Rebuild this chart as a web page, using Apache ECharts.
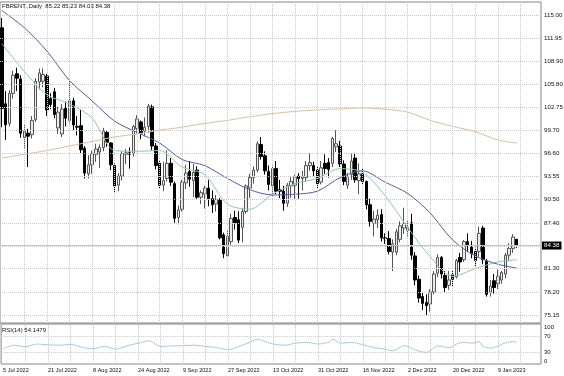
<!DOCTYPE html>
<html><head><meta charset="utf-8">
<script src="https://cdn.jsdelivr.net/npm/echarts@6/dist/echarts.min.js"></script>
<style>html,body{margin:0;padding:0;background:#fff}#c{width:564px;height:376px}</style>
</head><body><div id="c"></div>
<script>
const dates = ['5 Jul 2022','6 Jul 2022','7 Jul 2022','8 Jul 2022','11 Jul 2022','12 Jul 2022','13 Jul 2022','14 Jul 2022','15 Jul 2022','18 Jul 2022','19 Jul 2022','20 Jul 2022','21 Jul 2022','22 Jul 2022','25 Jul 2022','26 Jul 2022','27 Jul 2022','28 Jul 2022','29 Jul 2022',
'1 Aug 2022','2 Aug 2022','3 Aug 2022','4 Aug 2022','5 Aug 2022','8 Aug 2022','9 Aug 2022','10 Aug 2022','11 Aug 2022','12 Aug 2022','15 Aug 2022','16 Aug 2022','17 Aug 2022','18 Aug 2022','19 Aug 2022','22 Aug 2022','23 Aug 2022','24 Aug 2022','25 Aug 2022','26 Aug 2022','29 Aug 2022','30 Aug 2022','31 Aug 2022',
'1 Sep 2022','2 Sep 2022','5 Sep 2022','6 Sep 2022','7 Sep 2022','8 Sep 2022','9 Sep 2022','12 Sep 2022','13 Sep 2022','14 Sep 2022','15 Sep 2022','16 Sep 2022','19 Sep 2022','20 Sep 2022','21 Sep 2022','22 Sep 2022','23 Sep 2022','26 Sep 2022','27 Sep 2022','28 Sep 2022','29 Sep 2022','30 Sep 2022',
'3 Oct 2022','4 Oct 2022','5 Oct 2022','6 Oct 2022','7 Oct 2022','10 Oct 2022','11 Oct 2022','12 Oct 2022','13 Oct 2022','14 Oct 2022','17 Oct 2022','18 Oct 2022','19 Oct 2022','20 Oct 2022','21 Oct 2022','24 Oct 2022','25 Oct 2022','26 Oct 2022','27 Oct 2022','28 Oct 2022','31 Oct 2022',
'1 Nov 2022','2 Nov 2022','3 Nov 2022','4 Nov 2022','7 Nov 2022','8 Nov 2022','9 Nov 2022','10 Nov 2022','11 Nov 2022','14 Nov 2022','15 Nov 2022','16 Nov 2022','17 Nov 2022','18 Nov 2022','21 Nov 2022','22 Nov 2022','23 Nov 2022','24 Nov 2022','25 Nov 2022','28 Nov 2022','29 Nov 2022','30 Nov 2022',
'1 Dec 2022','2 Dec 2022','5 Dec 2022','6 Dec 2022','7 Dec 2022','8 Dec 2022','9 Dec 2022','12 Dec 2022','13 Dec 2022','14 Dec 2022','15 Dec 2022','16 Dec 2022','19 Dec 2022','20 Dec 2022','21 Dec 2022','22 Dec 2022','23 Dec 2022','27 Dec 2022','28 Dec 2022','29 Dec 2022','30 Dec 2022',
'3 Jan 2023','4 Jan 2023','5 Jan 2023','6 Jan 2023','9 Jan 2023','10 Jan 2023','11 Jan 2023','12 Jan 2023','13 Jan 2023','16 Jan 2023'];

const opens = [113.3,103.2,100.6,104.6,107.2,106.5,98.7,99.3,99.1,101.1,106.1,106.2,106.9,103.9,104.8,100.0,99.2,102.6,101.0,
103.6,100.2,100.3,97.3,93.9,95.1,96.5,96.8,97.4,99.4,98.0,95.0,92.4,93.6,96.5,96.7,96.6,99.9,100.8,99.6,100.2,102.8,97.6,
95.3,92.4,93.3,95.3,92.6,88.1,89.2,92.7,94.2,93.0,94.4,90.8,91.2,92.0,90.6,89.9,90.4,85.8,83.0,84.9,88.1,87.8,
86.8,88.9,92.0,93.4,94.4,97.8,96.3,94.2,92.3,94.6,91.8,91.6,90.0,92.3,92.4,93.6,93.3,93.4,95.0,95.0,94.4,
92.8,95.3,95.4,95.3,97.5,97.6,95.2,92.4,93.8,96.0,93.0,93.9,92.9,89.8,87.3,87.8,88.5,85.4,85.3,83.5,83.5,85.2,
86.7,86.4,87.4,83.0,79.9,77.6,76.8,76.6,78.2,80.7,82.8,80.4,79.1,80.5,80.2,82.8,82.5,84.9,84.4,83.6,83.6,
86.7,82.3,78.2,79.7,79.3,79.8,80.6,83.1,84.0,85.22];
const highs = [114.6,104.9,105.0,107.6,108.0,107.0,100.4,99.9,101.6,106.6,107.9,107.9,107.2,104.6,105.3,102.8,103.2,103.5,106.4,
104.0,101.6,102.4,97.6,96.4,97.0,97.9,97.8,100.0,99.7,98.1,95.3,94.0,96.9,97.2,97.4,100.4,101.7,101.0,101.4,103.2,103.1,98.0,
95.6,95.5,97.0,96.0,92.9,89.7,93.1,95.1,95.6,95.2,94.9,91.7,92.3,93.1,91.7,91.1,90.7,86.1,86.3,88.6,89.0,88.9,
89.4,92.5,93.9,94.9,98.2,98.8,96.9,95.0,95.0,95.6,93.1,92.3,92.7,93.6,93.8,94.0,94.3,95.6,96.6,95.5,94.8,
95.6,96.5,96.0,98.8,99.7,98.3,95.7,94.0,96.6,96.7,95.3,94.6,93.0,90.6,89.0,89.2,89.2,86.0,86.3,85.2,86.6,87.6,
89.4,87.7,88.6,83.5,80.4,78.1,77.9,78.6,81.0,83.2,83.0,81.0,81.0,81.0,82.6,83.4,85.1,86.0,85.0,84.1,86.9,
87.0,82.6,79.8,80.6,81.2,81.0,83.4,84.7,85.9,85.23];
const lows = [100.1,98.4,100.2,103.9,104.9,98.7,97.3,94.8,98.6,100.8,105.1,105.4,101.6,102.5,101.3,99.2,98.8,100.2,100.6,
99.7,99.0,96.6,93.3,93.3,93.9,95.5,94.7,96.9,97.5,94.4,91.5,91.6,93.0,95.2,94.6,96.2,99.3,98.5,98.9,99.4,97.0,94.5,
92.0,91.6,92.9,92.3,87.4,87.2,88.9,91.9,92.2,90.8,90.5,89.9,89.3,89.6,88.7,88.9,85.2,82.7,82.9,84.5,86.5,84.7,
84.8,88.6,90.7,92.6,94.1,95.8,93.8,91.7,90.9,91.2,90.7,89.0,89.5,90.7,90.6,90.6,91.7,92.8,94.3,93.6,92.0,
92.5,93.9,93.4,94.8,96.8,94.8,92.4,91.9,93.1,92.7,91.2,92.5,89.2,86.9,85.6,86.7,84.9,84.6,83.2,81.0,83.1,84.8,
85.9,85.5,82.5,79.1,76.8,75.8,75.1,75.6,77.9,80.2,80.0,78.2,78.5,78.9,80.0,80.9,82.2,83.5,82.7,81.5,82.9,
81.9,77.6,77.6,78.0,78.6,79.3,80.0,82.3,83.4,84.03];
const closes = [102.6,100.4,104.6,107.0,106.6,99.3,99.6,98.9,101.0,106.2,107.3,107.1,102.4,103.1,101.8,102.1,102.5,101.3,103.6,
100.4,100.1,97.1,94.0,95.1,96.6,97.2,97.4,99.6,98.1,95.1,92.3,93.6,96.6,96.7,96.5,100.2,101.2,99.3,100.1,102.9,97.6,95.0,
92.4,93.0,95.3,92.8,88.0,89.1,92.8,94.0,93.2,94.1,90.8,91.4,92.0,90.6,89.8,90.5,85.4,83.3,85.6,88.0,87.4,85.1,
88.9,92.3,93.4,94.4,97.9,96.2,94.3,92.5,94.6,91.6,91.6,90.0,92.4,92.9,93.5,93.3,93.5,95.0,95.4,94.3,92.6,
94.7,94.6,94.5,98.6,97.9,95.2,92.9,93.6,95.6,93.1,93.9,92.9,89.8,87.6,87.9,88.4,85.4,85.3,83.6,84.6,86.2,87.0,
87.3,86.8,83.1,79.8,77.4,76.7,76.4,78.2,80.6,82.8,80.6,78.8,79.8,79.9,82.4,82.2,84.9,84.3,83.3,82.4,86.0,
82.5,77.9,79.0,78.8,80.3,80.8,83.1,84.0,85.5,84.38];

// moving averages at every 6th bar (and the last bar)
const maIndex = [0,6,12,18,24,30,36,42,48,54,60,66,72,78,84,90,96,102,108,114,120,126,132,137];
const maFast = [111.2,107.5,104.4,103.2,101.3,97.0,96.9,97.0,94.8,93.8,89.9,89.2,91.2,92.6,93.3,94.6,94.1,91.0,86.8,82.9,80.3,81.3,82.2,82.5];
const maMid  = [115.6,113.3,110.2,106.3,103.6,100.9,99.4,98.0,95.8,95.0,93.3,91.8,91.1,91.2,91.6,93.4,94.3,92.8,91.3,88.7,85.1,83.0,81.9,81.4];
const maSlow = [96.0,96.5,97.0,97.6,98.2,98.8,99.2,99.7,100.1,100.6,101.0,101.5,101.9,102.2,102.4,102.55,102.65,102.5,102.1,101.0,100.2,99.5,98.4,98.0];

const rsiIndex  = [0,3,6,9,12,15,18,21,24,27,30,33,36,39,42,45,48,51,54,57,60,63,66,68,69,72,75,78,81,84,87,88,90,93,96,99,102,104,107,110,113,116,119,121,123,125,127,128,130,132,134,136,137];
const rsiValues = [38,47,43,50,48,47,49,42,38,44,37,45,52,58,44,45,46,47,44,41,36,44,55,62,59,50,47,52,54,50,55,62,52,54,48,41,37,33,46,35,29,45,41,50,54,52,56,44,40,45,53,56,54.15];

const priceTicks = ['115.00','111.95','108.90','105.80','102.75','99.70','96.60','93.55','90.50','87.40','84.35','81.30','78.20','75.15'];
const rsiTicks = [100,70,30,0];
const rsiLevels = [70,30];
const symbolName = 'FBRENT.,Daily';
const rsiName = 'RSI(14)';
const rsiLast = '54.1479';

const N = dates.length;
const last = N - 1;
const emptyBars = 6;
const categories = dates.concat(new Array(emptyBars).fill(''));
const gridBars = [];
for (let i = 6; i < categories.length; i += 6) gridBars.push(i);

const FONT = 'Liberation Sans';
const gridColor = '#c9c9c9';
const header = symbolName + '  ' + [opens[last], highs[last], lows[last], closes[last]].map(v => v.toFixed(2)).join(' ');

const chart = echarts.init(document.getElementById('c'), null, {renderer: 'canvas'});
chart.setOption({
  animation: false,
  backgroundColor: '#ffffff',
  title: [
    {text: header, left: 2, top: 3, padding: 0, textStyle: {fontSize: 6, fontWeight: 'normal', color: '#111', fontFamily: FONT}},
    {text: rsiName + ' ' + rsiLast, left: 2, top: 327, padding: 0, textStyle: {fontSize: 6, fontWeight: 'normal', color: '#111', fontFamily: FONT}}
  ],
  grid: [
    {left: 0, right: 23, top: 2, bottom: 53, show: true, borderColor: '#858585', borderWidth: 1, backgroundColor: 'transparent'},
    {left: 0, right: 23, top: 324, bottom: 12, show: true, borderColor: '#858585', borderWidth: 1, backgroundColor: 'transparent'}
  ],
  xAxis: [
    {type: 'category', gridIndex: 0, data: categories, boundaryGap: true,
     axisLine: {show: false}, axisTick: {show: false}, axisLabel: {show: false}, splitLine: {show: false}},
    {type: 'category', gridIndex: 1, data: categories, boundaryGap: true,
     axisLine: {show: false}, axisTick: {show: false}, splitLine: {show: false},
     axisLabel: {show: true, interval: (i) => i % 12 === 0 && i < N, align: 'left', margin: 3,
       fontSize: 5.6, color: '#111', fontFamily: FONT}}
  ],
  yAxis: [
    {type: 'value', gridIndex: 0, position: 'right', min: 74.09, max: 116.73, scale: true,
     axisLine: {show: false}, axisTick: {show: false}, axisLabel: {show: false}, splitLine: {show: false}},
    {type: 'value', gridIndex: 1, position: 'right', min: 0, max: 100, interval: 10,
     axisLine: {show: false}, axisTick: {show: false}, splitLine: {show: false},
     axisLabel: {show: true, margin: 3, fontSize: 6, color: '#111', fontFamily: FONT,
       verticalAlignMaxLabel: 'top', verticalAlignMinLabel: 'bottom',
       formatter: v => rsiTicks.indexOf(v) >= 0 ? String(v) : ''}}
  ],
  series: [
    {name: 'grid', type: 'line', xAxisIndex: 0, yAxisIndex: 0, data: [], z: 1, silent: true,
     markLine: {silent: true, symbol: 'none', animation: false,
       lineStyle: {color: gridColor, type: 'dotted', width: 1},
       label: {show: true, position: 'end', distance: 3, fontSize: 6.2, color: '#111', fontFamily: FONT},
       data: priceTicks.map(t => ({yAxis: parseFloat(t), label: {formatter: Math.abs(parseFloat(t) - closes[last]) < 0.5 ? '' : t}}))
         .concat(gridBars.map(i => ({xAxis: i, label: {show: false}})))}},
    {name: 'rsiGrid', type: 'line', xAxisIndex: 1, yAxisIndex: 1, data: [], z: 1, silent: true,
     markLine: {silent: true, symbol: 'none', animation: false,
       lineStyle: {color: gridColor, type: 'dotted', width: 1},
       label: {show: false},
       data: rsiLevels.map(v => ({yAxis: v})).concat(gridBars.map(i => ({xAxis: i})))}},
    {name: 'bid', type: 'line', xAxisIndex: 0, yAxisIndex: 0, data: [], z: 2, silent: true,
     markLine: {silent: true, symbol: 'none', animation: false,
       lineStyle: {color: '#c4c4c4', type: 'solid', width: 1},
       label: {show: true, position: 'end', distance: 1, fontSize: 6.2, color: '#fff', backgroundColor: '#000',
         padding: [1, 2, 1, 2], fontFamily: FONT, formatter: closes[last].toFixed(2)},
       data: [{yAxis: closes[last]}]}},
    {name: 'FBRENT', type: 'candlestick', xAxisIndex: 0, yAxisIndex: 0, z: 3, barWidth: 3,
     data: dates.map((d, i) => [opens[i], closes[i], lows[i], highs[i]]),
     itemStyle: {color: '#ececec', color0: '#000000', borderColor: '#555555', borderColor0: '#000000', borderWidth: 1}},
    {name: 'MA fast', type: 'line', xAxisIndex: 0, yAxisIndex: 0, z: 4, showSymbol: false, smooth: 0.3, silent: true,
     data: maIndex.map((x, k) => [x, maFast[k]]), lineStyle: {color: '#8fcaa8', width: 1}},
    {name: 'MA mid', type: 'line', xAxisIndex: 0, yAxisIndex: 0, z: 4, showSymbol: false, smooth: 0.3, silent: true,
     data: maIndex.map((x, k) => [x, maMid[k]]), lineStyle: {color: '#5b5ba8', width: 1}},
    {name: 'MA slow', type: 'line', xAxisIndex: 0, yAxisIndex: 0, z: 4, showSymbol: false, smooth: 0.3, silent: true,
     data: maIndex.map((x, k) => [x, maSlow[k]]), lineStyle: {color: '#dcbf9f', width: 1}},
    {name: 'RSI', type: 'line', xAxisIndex: 1, yAxisIndex: 1, z: 4, showSymbol: false, smooth: 0.3, silent: true,
     data: rsiIndex.map((x, k) => [x, rsiValues[k]]), lineStyle: {color: '#a6cbe2', width: 1}}
  ]
});
</script></body></html>
